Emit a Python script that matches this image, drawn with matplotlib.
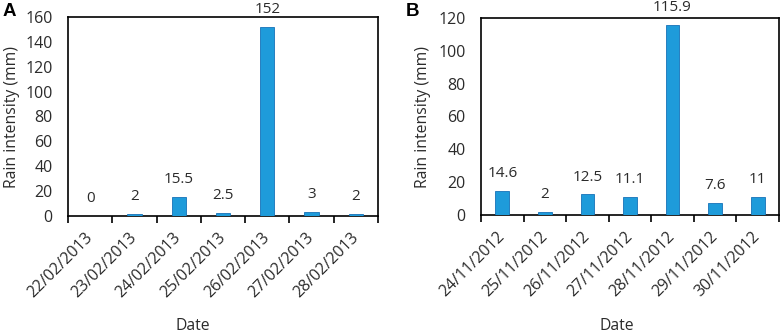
import matplotlib
matplotlib.use("Agg")
import matplotlib.pyplot as plt
import numpy as np

plt.rcParams['font.family'] = ['Open Sans', 'DejaVu Sans']

dates_a = ["22/02/2013", "23/02/2013", "24/02/2013", "25/02/2013",
           "26/02/2013", "27/02/2013", "28/02/2013"]
rain_a = [0, 2, 15.5, 2.5, 152, 3, 2]
labels_a = ["0", "2", "15.5", "2.5", "152", "3", "2"]
yticks_a = [0, 20, 40, 60, 80, 100, 120, 140, 160]

dates_b = ["24/11/2012", "25/11/2012", "26/11/2012", "27/11/2012",
           "28/11/2012", "29/11/2012", "30/11/2012"]
rain_b = [14.6, 2, 12.5, 11.1, 115.9, 7.6, 11]
labels_b = ["14.6", "2", "12.5", "11.1", "115.9", "7.6", "11"]
yticks_b = [0, 20, 40, 60, 80, 100, 120]

W, H = 782, 335
fig = plt.figure(figsize=(W / 100, H / 100), dpi=100)

BAR = '#1E9BDA'
EDGE = '#1672B8'
TXT = '#2b2b2b'
FS = 11


def panel(rect, dates, vals, labs, yticks, letter, letter_x, ylab_x, date_x):
    l, t, r, b = rect
    ax = fig.add_axes([l / W, 1 - b / H, (r - l) / W, (b - t) / H])
    x = np.arange(len(vals))
    ax.bar(x, vals, width=0.32, color=BAR, edgecolor=EDGE, linewidth=0.6, zorder=3)
    for xi, v, s in zip(x, vals, labs):
        ax.annotate(s, (xi, v), xytext=(0, 10), textcoords='offset points',
                    ha='center', va='baseline', fontsize=FS, color=TXT,
                    annotation_clip=False)
    ax.set_xlim(-0.5, len(vals) - 0.5)
    ax.set_ylim(yticks[0], yticks[-1])
    ax.set_yticks(yticks)
    ax.tick_params(axis='y', length=0, pad=11, labelsize=11.5, colors=TXT)
    ax.set_xticks(x)
    ax.set_xticklabels(dates, rotation=45, ha='right', va='center',
                       rotation_mode='anchor', fontsize=11.5, color=TXT)
    ax.tick_params(axis='x', which='major', length=0, pad=14)
    ax.set_xticks(np.arange(-0.5, len(vals), 1.0), minor=True)
    ax.tick_params(axis='x', which='minor', length=5, width=1.2, direction='out')
    for sp in ax.spines.values():
        sp.set_linewidth(1.2)
        sp.set_color('black')
    ax.set_ylabel("Rain intensity (mm)", fontsize=11.3, color=TXT, va='center')
    ax.yaxis.set_label_coords((ylab_x - l) / (r - l), 0.5)
    fig.text(date_x / W, 1 - 326 / H, "Date", ha='center', va='center',
             fontsize=11.3, color=TXT)
    fig.text(letter_x / W, 1 - 12 / H, letter, ha='left', va='center',
             fontsize=13.5, fontweight='bold', family=['Liberation Sans', 'DejaVu Sans'])
    return ax


panel((68, 17, 378, 216), dates_a, rain_a, labels_a, yticks_a, "A", 3, 12, 193)
panel((481, 18, 779, 215), dates_b, rain_b, labels_b, yticks_b, "B", 406, 423, 617)

fig.savefig("out.png", dpi=100)
